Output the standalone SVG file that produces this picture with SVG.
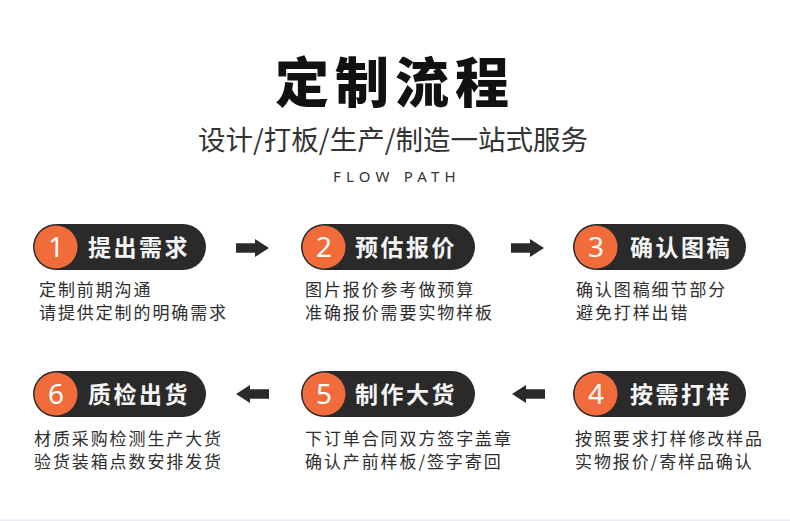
<svg xmlns="http://www.w3.org/2000/svg" xmlns:xlink="http://www.w3.org/1999/xlink" width="790" height="521" viewBox="0 0 790 521">
<defs>
<style>
.cjk{font-family:"Noto Sans CJK SC","Noto Sans",sans-serif;}
.pill{fill:#2a2a2a;}
.dot{fill:#f26b3a;}
.num{font-family:"Noto Sans","Noto Sans CJK SC",sans-serif;font-size:28px;fill:#ffffff;text-anchor:middle;}
.ttl{font-family:"Noto Sans CJK SC",sans-serif;font-size:23px;font-weight:700;fill:#f5f5f5;letter-spacing:2.5px;}
.desc{font-family:"Noto Sans CJK SC",sans-serif;font-size:17px;fill:#2e2e2e;letter-spacing:1.9px;}
.arr{fill:#2a2a2a;}
</style>
<path id="arrow" d="M0,-4.8 H19 V-9 L33,0 L19,9 V4.8 H0 Z"/>
</defs>
<rect width="790" height="521" fill="#ffffff"/>
<g id="header">
<text x="395" y="103" class="cjk" font-size="54" font-weight="900" fill="#111111" text-anchor="middle" letter-spacing="6">定制流程</text>
<text x="393" y="150" class="cjk" font-size="27.5" fill="#333333" text-anchor="middle">设计/打板/生产/制造一站式服务</text>
<text x="397" y="182" font-family="Noto Sans, Liberation Sans, sans-serif" font-size="15" fill="#333333" text-anchor="middle" letter-spacing="5.2">FLOW PATH</text>
</g>
<g id="connectors">
<use xlink:href="#arrow" class="arr" transform="translate(236,248)"/>
<use xlink:href="#arrow" class="arr" transform="translate(511,248)"/>
<use xlink:href="#arrow" class="arr" transform="translate(545,394) scale(-1,1)"/>
<use xlink:href="#arrow" class="arr" transform="translate(269,394) scale(-1,1)"/>
</g>
<g id="step1">
<rect class="pill" x="33" y="224" width="173" height="46" rx="23"/>
<circle class="dot" cx="56" cy="247" r="21.5"/>
<text class="num" x="56" y="257">1</text>
<text class="ttl" x="88" y="256">提出需求</text>
<text class="desc" x="39" y="296">定制前期沟通</text>
<text class="desc" x="39" y="319">请提供定制的明确需求</text>
</g>
<g id="step2">
<rect class="pill" x="301" y="224" width="174" height="46" rx="23"/>
<circle class="dot" cx="324" cy="247" r="21.5"/>
<text class="num" x="324" y="257">2</text>
<text class="ttl" x="355" y="256">预估报价</text>
<text class="desc" x="305" y="296">图片报价参考做预算</text>
<text class="desc" x="305" y="319">准确报价需要实物样板</text>
</g>
<g id="step3">
<rect class="pill" x="573" y="224" width="173" height="46" rx="23"/>
<circle class="dot" cx="596" cy="247" r="21.5"/>
<text class="num" x="596" y="257">3</text>
<text class="ttl" x="630" y="256">确认图稿</text>
<text class="desc" x="576" y="296">确认图稿细节部分</text>
<text class="desc" x="576" y="319">避免打样出错</text>
</g>
<g id="step4">
<rect class="pill" x="573" y="371" width="173" height="46" rx="23"/>
<circle class="dot" cx="596" cy="394" r="21.5"/>
<text class="num" x="596" y="404">4</text>
<text class="ttl" x="630" y="403">按需打样</text>
<text class="desc" x="575" y="445">按照要求打样修改样品</text>
<text class="desc" x="575" y="468">实物报价/寄样品确认</text>
</g>
<g id="step5">
<rect class="pill" x="301" y="371" width="174" height="46" rx="23"/>
<circle class="dot" cx="324" cy="394" r="21.5"/>
<text class="num" x="324" y="404">5</text>
<text class="ttl" x="355" y="403">制作大货</text>
<text class="desc" x="305" y="445">下订单合同双方签字盖章</text>
<text class="desc" x="305" y="468">确认产前样板/签字寄回</text>
</g>
<g id="step6">
<rect class="pill" x="33" y="371" width="173" height="46" rx="23"/>
<circle class="dot" cx="56" cy="394" r="21.5"/>
<text class="num" x="56" y="404">6</text>
<text class="ttl" x="88" y="403">质检出货</text>
<text class="desc" x="34" y="445">材质采购检测生产大货</text>
<text class="desc" x="34" y="468">验货装箱点数安排发货</text>
</g>
<rect x="0" y="519.5" width="790" height="1.5" fill="#eceef4"/>
</svg>
